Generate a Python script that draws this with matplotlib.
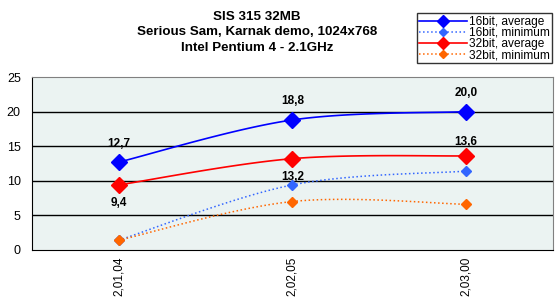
import numpy as np
import matplotlib
matplotlib.use("Agg")
import matplotlib.pyplot as plt
from matplotlib.lines import Line2D

plt.rcParams['font.family'] = ['Liberation Sans', 'DejaVu Sans']

categories = ["2,01,04", "2,02,05", "2,03,00"]
avg16 = [12.7, 18.8, 20.0]
min16 = [1.4, 9.4, 11.4]
avg32 = [9.4, 13.2, 13.6]
min32 = [1.4, 7.0, 6.6]

series = [
    ("16bit, average", avg16, "#0000FF", "-", 1.2, 8),
    ("16bit, minimum", min16, "#3366FF", ":", 1.1, 5),
    ("32bit, average", avg32, "#FF0000", "-", 1.2, 8),
    ("32bit, minimum", min32, "#FF6600", ":", 1.1, 5),
]


def smooth(xs, ys, n=40):
    # Catmull-Rom style curve through the points, for the smoothed lines
    xs = np.asarray(xs, float)
    ys = np.asarray(ys, float)
    px = np.concatenate([[xs[0]], xs, [xs[-1]]])
    py = np.concatenate([[ys[0]], ys, [ys[-1]]])
    ox, oy = [], []
    for i in range(1, len(px) - 2):
        t = np.linspace(0, 1, n)
        x1, x2 = px[i], px[i + 1]
        y1, y2 = py[i], py[i + 1]
        mx1 = (px[i + 1] - px[i - 1]) / 2
        mx2 = (px[i + 2] - px[i]) / 2
        my1 = (py[i + 1] - py[i - 1]) / 2
        my2 = (py[i + 2] - py[i]) / 2
        h00 = 2 * t**3 - 3 * t**2 + 1
        h10 = t**3 - 2 * t**2 + t
        h01 = -2 * t**3 + 3 * t**2
        h11 = t**3 - t**2
        ox.extend(h00 * x1 + h10 * mx1 + h01 * x2 + h11 * mx2)
        oy.extend(h00 * y1 + h10 * my1 + h01 * y2 + h11 * my2)
    return ox, oy


fig = plt.figure(figsize=(5.6, 3.0), dpi=100)
ax = fig.add_axes([0.057, 0.167, 0.930, 0.576])
ax.set_facecolor("#EBF3F2")

x = np.arange(len(categories))
handles = []
for label, vals, color, ls, lw, ms in series:
    sx, sy = smooth(x, vals)
    ax.plot(sx, sy, color=color, linestyle=ls, linewidth=lw, zorder=3)
    ax.plot(x, vals, color=color, linestyle="none", marker="D",
            markersize=ms, zorder=4)
    handles.append(Line2D([], [], color=color, linestyle=ls, linewidth=lw,
                          marker="D", markersize=ms * 0.75, label=label))

for i, v in enumerate(avg16):
    ax.annotate(f"{v:.1f}".replace(".", ","), (x[i], v), xytext=(0, 9),
                textcoords="offset points", ha="center", va="bottom",
                fontsize=8.5, fontweight="bold")
ax.annotate("9,4", (x[0], avg32[0]), xytext=(0, -9), textcoords="offset points",
            ha="center", va="top", fontsize=8.5, fontweight="bold")
ax.annotate("13,2", (x[1], avg32[1]), xytext=(0, -9), textcoords="offset points",
            ha="center", va="top", fontsize=8.5, fontweight="bold")
ax.annotate("13,6", (x[2], avg32[2]), xytext=(0, 6), textcoords="offset points",
            ha="center", va="bottom", fontsize=8.5, fontweight="bold")

ax.set_xlim(-0.5, 2.5)
ax.set_ylim(0, 25)
ax.set_yticks([0, 5, 10, 15, 20, 25])
ax.set_xticks(x)
ax.set_xticklabels(categories, rotation=90, fontsize=8.5)
ax.tick_params(axis="y", labelsize=9, length=0, pad=8)
ax.tick_params(axis="x", length=0, pad=5)
for yv in [5, 10, 15, 20]:
    ax.axhline(yv, color="black", linewidth=1, zorder=1)

for side in ["top", "right"]:
    ax.spines[side].set_color("#808080")
for side in ["left", "bottom"]:
    ax.spines[side].set_color("black")

fig.text(0.459, 0.965, "SIS 315 32MB\nSerious Sam, Karnak demo, 1024x768\nIntel Pentium 4 - 2.1GHz",
         ha="center", va="top", fontsize=9.6, fontweight="bold", linespacing=1.4)

leg = fig.legend(handles=handles, loc="upper right", bbox_to_anchor=(0.986, 0.955),
                 fontsize=8.6, frameon=True, fancybox=False, edgecolor="black",
                 borderpad=0.2, labelspacing=-0.08, handlelength=4.0,
                 handletextpad=0.15, borderaxespad=0)
leg.get_frame().set_linewidth(1)

fig.savefig("out.png", dpi=100)
